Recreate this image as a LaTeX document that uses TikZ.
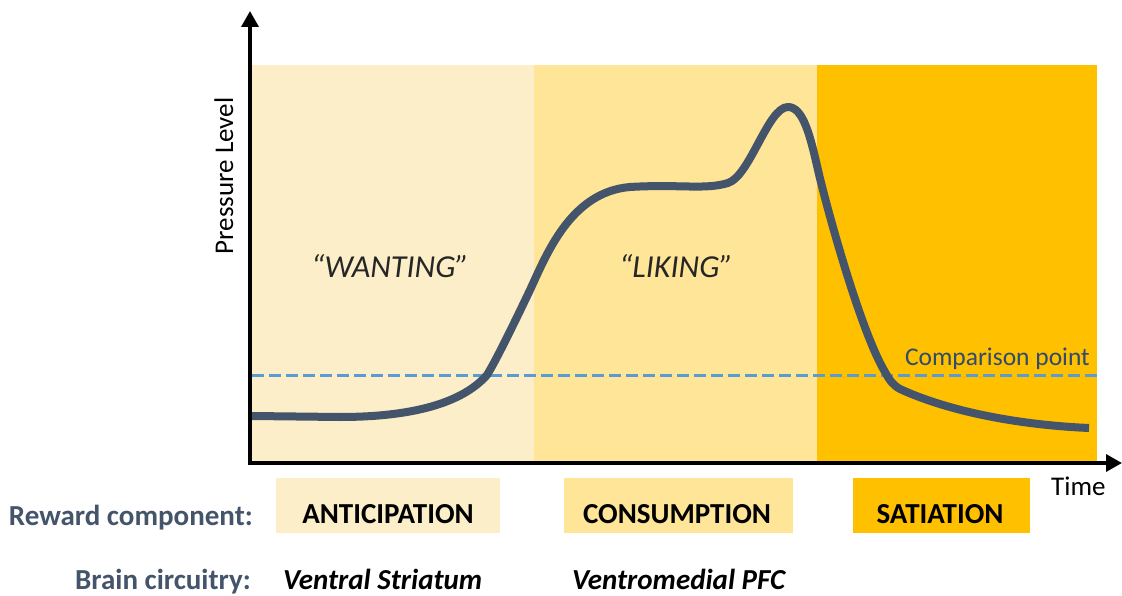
\documentclass[tikz,border=0pt]{standalone}
\usepackage{fontspec}
\setmainfont{Carlito}
\usetikzlibrary{arrows.meta}
\definecolor{cAnt}{HTML}{FBEEC8}
\definecolor{cCon}{HTML}{FFE597}
\definecolor{cSat}{HTML}{FFC000}
\definecolor{cCurve}{HTML}{44546A}
\definecolor{cDash}{HTML}{5B9BD5}
\definecolor{cLab}{HTML}{44546A}
\definecolor{cComp}{HTML}{2F4B6E}
\tikzset{
  boxtext/.style={anchor=base, inner sep=0pt, font=\fontsize{29}{33}\selectfont\bfseries},
  rowlabel/.style={anchor=base east, inner sep=0pt, text=cLab, font=\fontsize{29}{33}\selectfont\bfseries},
  circ/.style={anchor=base west, inner sep=0pt, font=\fontsize{29}{33}\selectfont\bfseries\itshape},
  phase/.style={anchor=base, inner sep=0pt, font=\fontsize{32}{36}\selectfont\itshape, text=black!85},
  axis/.style={line width=3.5pt, -{Triangle[length=16pt,width=17pt]}}
}
\begin{document}
\begin{tikzpicture}[x=1pt,y=-1pt]
\useasboundingbox (0,0) rectangle (1122,596);
% bands
\fill[cAnt] (252,65) rectangle (534,463);
\fill[cCon] (534,65) rectangle (817,463);
\fill[cSat] (817,65) rectangle (1097,463);
% comparison line
\draw[cDash, line width=3pt, dash pattern=on 12pt off 5pt] (252,375) -- (1100,375);
\node[anchor=base east, text=cComp, font=\fontsize{25.5}{30}\selectfont, inner sep=0pt] (comp) at (1090,365) {Comparison point};
% curve
\draw[cCurve, line width=8pt, line cap=butt, line join=round]
  (252,416) -- (340,417)
  .. controls (420,417) and (465,400) .. (487,375)
  .. controls (497,359) and (520,311) .. (530,290)
  .. controls (546,256) and (570,192) .. (630,187)
  .. controls (680,184) and (705,190) .. (728,183)
  .. controls (750,176) and (768,107) .. (788,107)
  .. controls (803,107) and (810,135) .. (818,170)
  .. controls (826,205) and (860,330) .. (885,372)
  .. controls (890,381) and (893,385) .. (900,389)
  .. controls (950,412) and (1020,425) .. (1089,428);
% axes
\coordinate (ytip) at (250,11);
\coordinate (xtip) at (1122,463);
\draw[axis] (250,465) -- (ytip);
\draw[axis] (248.25,463) -- (xtip);
% labels
\node[rotate=90, anchor=base, inner sep=0pt, font=\fontsize{27}{31}\selectfont] (ylab) at (233,176) {Pressure Level};
\node[anchor=base west, inner sep=0pt, font=\fontsize{27}{31}\selectfont] (xlab) at (1051,495) {Time};
\node[phase] (want) at (390,277) {“WANTING”};
\node[phase] (like) at (676,277) {“LIKING”};
% component boxes
\fill[cAnt] (276,478) rectangle (500,533);
\fill[cCon] (564,478) rectangle (793,533);
\fill[cSat] (853,478) rectangle (1030,533);
\node[boxtext] (ant) at (388,523) {ANTICIPATION};
\node[boxtext] (con) at (677,523) {CONSUMPTION};
\node[boxtext] (sat) at (940,523) {SATIATION};
\node[rowlabel] (rew) at (253,525) {Reward component:};
\node[rowlabel] (brain) at (251,589) {Brain circuitry:};
\node[circ] (vs) at (283,589) {Ventral Striatum};
\node[circ] (vm) at (572,589) {Ventromedial PFC};
\end{tikzpicture}
\end{document}
